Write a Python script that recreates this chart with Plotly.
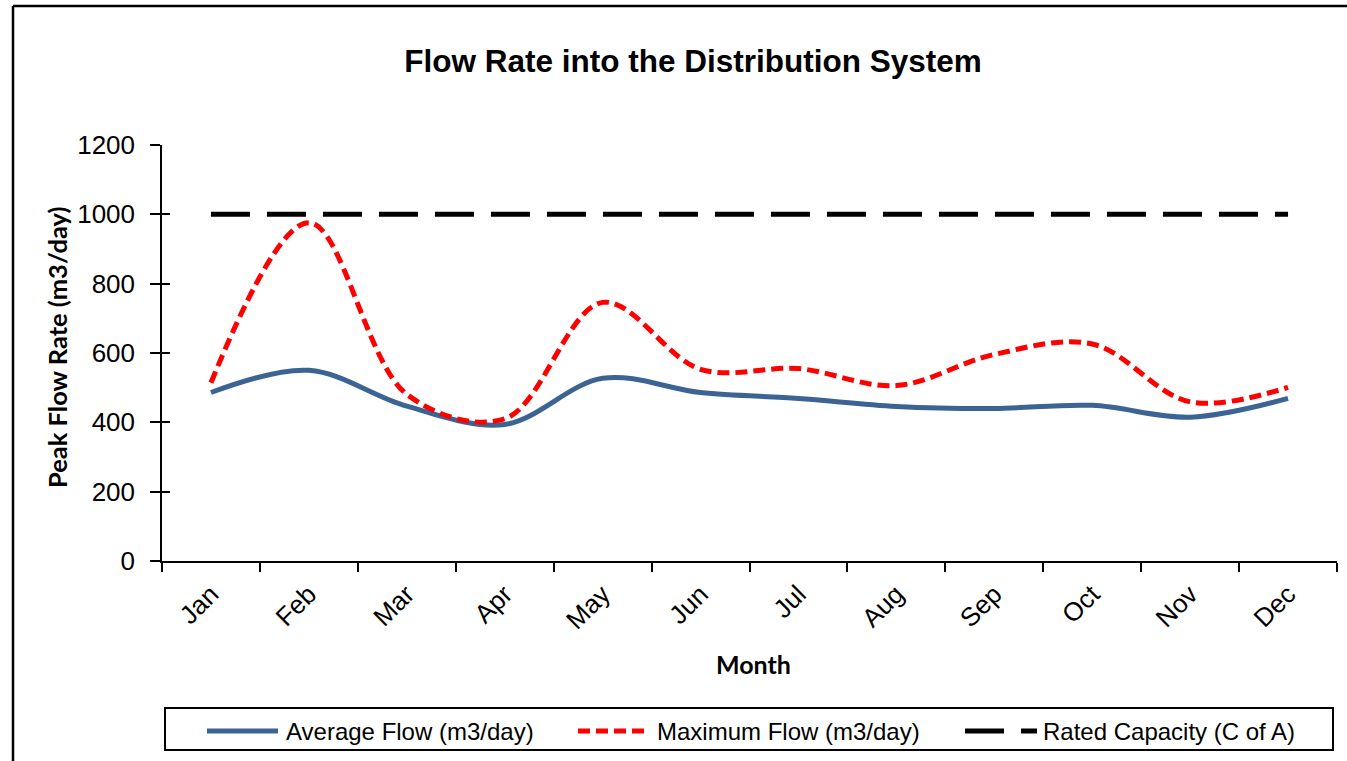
import plotly.graph_objects as go

months = ["Jan", "Feb", "Mar", "Apr", "May", "Jun", "Jul", "Aug", "Sep", "Oct", "Nov", "Dec"]
average_flow = [486, 550, 447, 394, 527, 486, 469, 446, 440, 449, 415, 469]
maximum_flow = [514, 976, 481, 410, 746, 553, 555, 506, 596, 626, 459, 501]
rated_capacity = [1000] * 12
y_ticks = [0, 200, 400, 600, 800, 1000, 1200]

W, H = 1347, 761
L, R, T, B = 162, 10, 145, 200
PW, PH = W - L - R, H - T - B


def px(x):
    return (x - L) / PW


def py(y):
    return (H - B - y) / PH


BLUE = "#3B6494"
RED = "#FF0000"
BLACK = "#000000"
ARIAL = "Liberation Sans, Arial"
BOLD = "Lato, Open Sans, sans-serif"

fig = go.Figure()
fig.add_trace(go.Scatter(x=months, y=average_flow, mode="lines", name="Average Flow (m3/day)",
                         line=dict(color=BLUE, width=5, shape="spline", smoothing=1), showlegend=False))
fig.add_trace(go.Scatter(x=months, y=maximum_flow, mode="lines", name="Maximum Flow (m3/day)",
                         line=dict(color=RED, width=5, shape="spline", smoothing=1, dash="12px,6px"),
                         showlegend=False))
fig.add_trace(go.Scatter(x=months, y=rated_capacity, mode="lines", name="Rated Capacity (C of A)",
                         line=dict(color=BLACK, width=5, dash="39px,17px"), showlegend=False))
# invisible trace to host the cross-tick overlay axis
fig.add_trace(go.Scatter(x=months, y=rated_capacity, mode="lines", yaxis="y2",
                         line=dict(width=0), hoverinfo="skip", showlegend=False, opacity=0))

fig.update_layout(
    width=W, height=H,
    margin=dict(l=L, r=R, t=T, b=B),
    paper_bgcolor="white", plot_bgcolor="white",
    title=dict(text="<b>Flow Rate into the Distribution System</b>", x=693 / W, xanchor="center",
               y=1 - 61 / H, yanchor="middle", font=dict(family=ARIAL, size=31.5, color="black")),
    xaxis=dict(type="category", range=[-0.5, 11.5], tickson="boundaries", ticks="outside", ticklen=9,
               tickwidth=1.5, tickcolor="black", showline=True, linecolor="black", linewidth=1.5,
               showgrid=False, zeroline=False, tickangle=-45, ticklabelstandoff=6,
               tickfont=dict(family=ARIAL, size=26, color="black")),
    yaxis=dict(range=[0, 1200], tickvals=y_ticks, ticks="outside", ticklen=10, tickwidth=1.5,
               tickcolor="black", showline=True, linecolor="black", linewidth=1.5, showgrid=False,
               zeroline=False, tickfont=dict(family=ARIAL, size=26, color="black"), ticklabelstandoff=10),
    yaxis2=dict(range=[0, 1200], tickvals=y_ticks, overlaying="y", side="left", ticks="inside",
                ticklen=8, tickwidth=1.5, tickcolor="black", showticklabels=False, showgrid=False,
                zeroline=False, showline=False),
)

annotations = [
    dict(text="<b>Peak Flow Rate (m3/day)</b>", x=px(57), y=py(347), xref="paper", yref="paper",
         xanchor="center", yanchor="middle", textangle=-90, showarrow=False,
         font=dict(family=BOLD, size=25.5, color="black")),
    dict(text="<b>Month</b>", x=px(753), y=py(664), xref="paper", yref="paper",
         xanchor="center", yanchor="middle", showarrow=False,
         font=dict(family=BOLD, size=25, color="black")),
]
legend_items = [
    ("Average Flow (m3/day)", BLUE, "solid", 207, 278, 284),
    ("Maximum Flow (m3/day)", RED, "12px,6px", 578, 650, 655),
    ("Rated Capacity (C of A)", BLACK, "39px,17px", 965, 1037, 1041),
]
shapes = [
    # outer chart frame (top and left edges visible)
    dict(type="line", xref="paper", yref="paper", x0=px(13), x1=px(1400), y0=py(6), y1=py(6),
         line=dict(color="black", width=2.5)),
    dict(type="line", xref="paper", yref="paper", x0=px(13), x1=px(13), y0=py(6), y1=py(800),
         line=dict(color="black", width=2.5)),
    # legend box
    dict(type="rect", xref="paper", yref="paper", x0=px(165), x1=px(1333), y0=py(750), y1=py(708),
         line=dict(color="black", width=2), fillcolor="rgba(0,0,0,0)"),
]
for label, color, dash, lx0, lx1, tx in legend_items:
    shapes.append(dict(type="line", xref="paper", yref="paper", x0=px(lx0), x1=px(lx1),
                       y0=py(731), y1=py(731), line=dict(color=color, width=5, dash=dash)))
    annotations.append(dict(text=label, x=px(tx), y=py(731), xref="paper", yref="paper",
                            xanchor="left", yanchor="middle", showarrow=False,
                            font=dict(family=ARIAL, size=24, color="black")))

fig.update_layout(annotations=annotations, shapes=shapes)
fig.write_html("out.html", config={"displayModeBar": False},
               post_script="document.body.style.margin='0px';")
